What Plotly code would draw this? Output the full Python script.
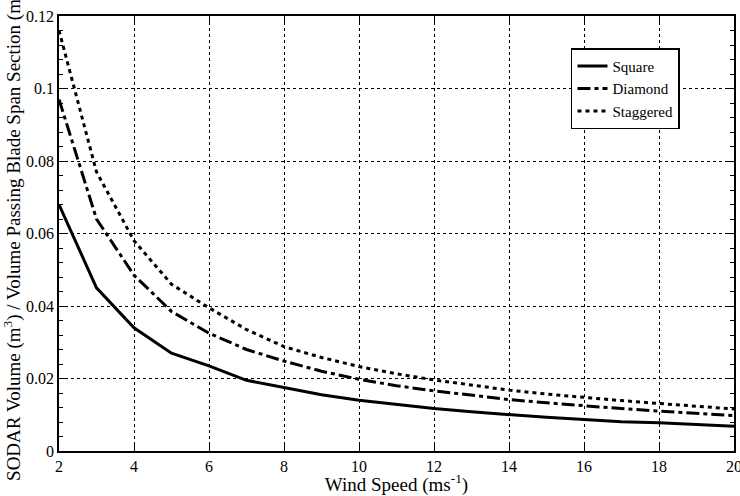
import plotly.graph_objects as go

wind_speed = [2, 3, 4, 5, 6, 7, 8, 9, 10, 11, 12, 13, 14, 15, 16, 17, 18, 19, 20]
square = [0.068, 0.045, 0.034, 0.027, 0.0235, 0.0195, 0.0175, 0.0155, 0.0140, 0.0128, 0.0117, 0.0108, 0.0100, 0.0093, 0.0087, 0.0081, 0.0078, 0.0073, 0.0068]
diamond = [0.097, 0.064, 0.0485, 0.0385, 0.0325, 0.028, 0.0248, 0.022, 0.0198, 0.018, 0.0166, 0.0153, 0.0142, 0.0133, 0.0124, 0.0117, 0.0110, 0.0104, 0.0098]
staggered = [0.116, 0.077, 0.058, 0.046, 0.0395, 0.0335, 0.0288, 0.0258, 0.0233, 0.0213, 0.0196, 0.0181, 0.0168, 0.0157, 0.0147, 0.0139, 0.0131, 0.0123, 0.0116]

series = [
    ("Square", square, "solid"),
    ("Diamond", diamond, "13px,4px,4px,4px"),
    ("Staggered", staggered, "4px,4px"),
]

font_family = "Times New Roman"

fig = go.Figure()
for name, vals, dash in series:
    fig.add_trace(go.Scatter(
        x=wind_speed, y=vals, mode="lines", name=name,
        line=dict(color="black", width=3, dash=dash),
    ))

axis_common = dict(
    showline=True, linecolor="black", linewidth=1.5, mirror="ticks",
    ticks="inside", ticklen=6, tickcolor="black", tickwidth=1,
    showgrid=True, gridcolor="black", gridwidth=1, griddash="dot",
    zeroline=False, automargin=False, ticklabeloverflow="allow",
    tickfont=dict(family=font_family, size=16, color="black"),
)

fig.update_xaxes(
    range=[2, 20], tick0=2, dtick=2,
    title=dict(text="Wind Speed (ms<sup>-1</sup>)", font=dict(family=font_family, size=19, color="black"), standoff=0),
    **axis_common,
)
fig.update_yaxes(
    range=[0, 0.12], tick0=0, dtick=0.02,
    minor=dict(dtick=0.004, ticks="inside", ticklen=4, tickcolor="black", showgrid=False),
    title=dict(text="SODAR Volume (m<sup>3</sup>) / Volume Passing Blade Span Section (m<sup>3</sup>)",
               font=dict(family=font_family, size=19, color="black"), standoff=7),
    **axis_common,
)

fig.update_layout(
    width=740, height=496,
    margin=dict(l=59, r=6, t=16, b=45, autoexpand=False),
    paper_bgcolor="white", plot_bgcolor="white",
    font=dict(family=font_family, color="black"),
    legend=dict(
        x=0.7585, y=0.926, xanchor="left", yanchor="top",
        bgcolor="white", bordercolor="black", borderwidth=1.5,
        font=dict(family=font_family, size=15, color="black"),
        itemwidth=30, tracegroupgap=0,
    ),
    showlegend=True,
)

fig.write_html("out.html")
